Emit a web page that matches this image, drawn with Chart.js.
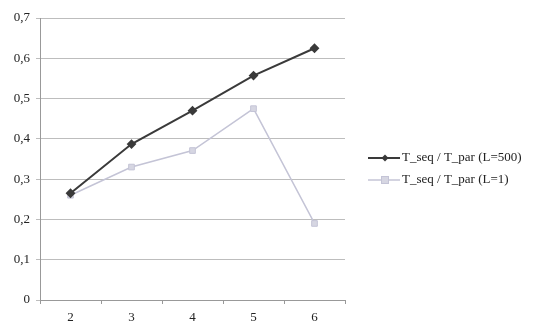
<!DOCTYPE html>
<html>
<head>
<meta charset="utf-8">
<script src="https://cdn.jsdelivr.net/npm/chart.js@4.4.1/dist/chart.umd.min.js"></script>
<style>
  html, body { margin: 0; padding: 0; background: #fff; }
  #wrap { position: relative; width: 547px; height: 326px; }
</style>
</head>
<body>
<div id="wrap"><canvas id="c" width="547" height="326"></canvas></div>
<script>
// Processor counts on the x axis
const categories = ['2', '3', '4', '5', '6'];
// Speed-up ratios T_seq / T_par
const ratioL500 = [0.265, 0.387, 0.470, 0.557, 0.625];
const ratioL1 = [0.260, 0.330, 0.371, 0.475, 0.190];
const seriesNames = ['T_seq / T_par (L=500)', 'T_seq / T_par (L=1)'];

const darkLine = '#3a3a3a';
const lightLine = '#c4c4d6';
const lightFill = '#d6d6e2';
const serif = '"Liberation Serif", "DejaVu Serif", serif';

// Legend on the right: line segment with the series marker, then the name
const sideLegend = {
  id: 'sideLegend',
  afterDraw(chart) {
    const ctx = chart.ctx;
    const area = chart.chartArea;
    const x0 = area.right + 23;
    const rows = [area.top + 140, area.top + 162];
    chart.data.datasets.forEach((ds, i) => {
      const y = rows[i];
      ctx.save();
      ctx.strokeStyle = ds.borderColor;
      ctx.lineWidth = ds.borderWidth;
      ctx.beginPath(); ctx.moveTo(x0, y); ctx.lineTo(x0 + 32, y); ctx.stroke();
      const mx = x0 + 17;
      if (ds.pointStyle === 'rectRot') {
        ctx.fillStyle = ds.pointBackgroundColor;
        ctx.beginPath(); ctx.moveTo(mx, y - 3.5); ctx.lineTo(mx + 3.5, y); ctx.lineTo(mx, y + 3.5); ctx.lineTo(mx - 3.5, y); ctx.closePath(); ctx.fill();
      } else {
        ctx.fillStyle = ds.pointBackgroundColor;
        ctx.fillRect(mx - 3.5, y - 3.5, 7, 7);
        ctx.strokeStyle = ds.pointBorderColor; ctx.lineWidth = 1;
        ctx.strokeRect(mx - 3.5, y - 3.5, 7, 7);
      }
      ctx.fillStyle = '#222';
      ctx.font = '13px ' + serif;
      ctx.textBaseline = 'middle';
      ctx.textAlign = 'left';
      ctx.fillText(ds.label, x0 + 34, y);
      ctx.restore();
    });
  }
};

new Chart(document.getElementById('c'), {
  type: 'line',
  data: {
    labels: categories,
    datasets: [
      {
        label: seriesNames[0],
        data: ratioL500,
        borderColor: darkLine,
        backgroundColor: darkLine,
        borderWidth: 2,
        pointStyle: 'rectRot',
        pointRadius: 3.5,
        pointBackgroundColor: darkLine,
        pointBorderColor: darkLine,
        tension: 0
      },
      {
        label: seriesNames[1],
        data: ratioL1,
        borderColor: lightLine,
        backgroundColor: lightLine,
        borderWidth: 1.5,
        pointStyle: 'rect',
        pointRadius: 4,
        pointBackgroundColor: lightFill,
        pointBorderColor: lightLine,
        pointBorderWidth: 1,
        tension: 0
      }
    ]
  },
  options: {
    responsive: false,
    animation: false,
    layout: { padding: { top: 18, right: 202, left: 0, bottom: 0 } },
    plugins: {
      tooltip: { enabled: false },
      legend: { display: false }
    },
    scales: {
      x: {
        offset: true,
        grid: { offset: true, drawOnChartArea: false, color: '#999', tickLength: 4 },
        border: { color: '#999' },
        ticks: { font: { family: serif, size: 13 }, color: '#222', padding: 6 },
        afterFit(s) { s.height = 26; }
      },
      y: {
        min: 0,
        max: 0.7,
        ticks: {
          stepSize: 0.1,
          font: { family: serif, size: 13 },
          color: '#222',
          padding: 6,
          callback: v => v === 0 ? '0' : v.toFixed(1).replace('.', ',')
        },
        grid: { color: '#bdbdbd', tickLength: 4 },
        border: { color: '#999' },
        afterFit(s) { s.width = 40; }
      }
    }
  },
  plugins: [sideLegend]
});
</script>
</body>
</html>
